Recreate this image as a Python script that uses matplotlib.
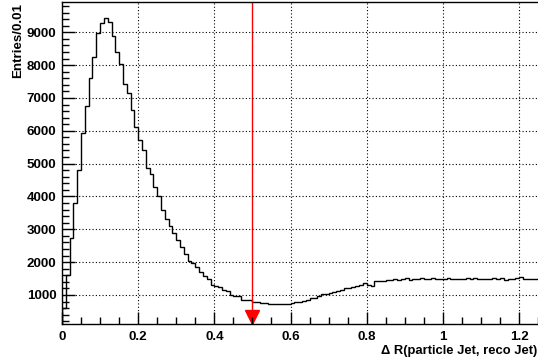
import matplotlib
matplotlib.use("Agg")
import matplotlib.pyplot as plt
import matplotlib.transforms as mtransforms
import numpy as np

# histogram: Delta R between particle jet and reco jet, bins of 0.01
bin_width = 0.01
counts = [600, 1600, 2750, 3810, 4810, 5930, 6770, 7600, 8250, 8980,
          9280, 9450, 9310, 8900, 8390, 8040, 7430, 7150, 6620, 6110,
          5725, 5420, 4860, 4690, 4290, 4010, 3600, 3320, 3100, 2890,
          2660, 2460, 2250, 2020, 1985, 1860, 1710, 1580, 1480, 1310,
          1275, 1230, 1140, 1130, 1000, 970, 960, 850, 850, 840,
          800, 795, 750, 745, 720, 715, 710, 712, 720, 740,
          770, 790, 800, 830, 860, 900, 920, 960, 1020, 1040,
          1060, 1100, 1110, 1150, 1200, 1210, 1240, 1270, 1300, 1360,
          1300, 1270, 1420, 1440, 1430, 1470, 1450, 1480, 1460, 1490,
          1510, 1470, 1500, 1490, 1510, 1500, 1480, 1510, 1500, 1490,
          1500, 1510, 1490, 1500, 1480, 1490, 1510, 1500, 1530, 1480,
          1500, 1490, 1500, 1520, 1490, 1530, 1470, 1480, 1490, 1520,
          1540, 1500, 1490, 1480, 1500, 1510]
cut_value = 0.5

x_ticks = [0, 0.2, 0.4, 0.6, 0.8, 1.0, 1.2]
x_ticklabels = ["0", "0.2", "0.4", "0.6", "0.8", "1", "1.2"]
y_ticks = [1000, 2000, 3000, 4000, 5000, 6000, 7000, 8000, 9000]

edges = np.arange(len(counts) + 1) * bin_width

plt.rcParams['font.family'] = ['Liberation Sans', 'DejaVu Sans']
plt.rcParams['font.weight'] = 'bold'

fig = plt.figure(figsize=(5.38, 3.62), dpi=100)
ax = fig.add_axes([62 / 538, 38 / 362, 1 - 62 / 538 + 0.002, 322 / 362])

ymin, ymax = 116, 1.05 * max(counts)
ax.stairs(counts, edges, baseline=0, color='black', lw=1.0)

ax.set_xlim(0, 1.2526)
ax.set_ylim(ymin, ymax)

ax.set_xticks(x_ticks)
ax.set_xticklabels(x_ticklabels)
ax.set_yticks(y_ticks)
ax.set_xticks(np.arange(0, 1.26, 0.05), minor=True)
ax.set_yticks(np.arange(200, 9900, 200), minor=True)
ax.tick_params(direction='in', which='major', length=9, width=1, labelsize=9.6, pad=4)
ax.tick_params(direction='in', which='minor', length=5, width=1)
ax.tick_params(axis='x', pad=5)

ax.grid(True, which='major', color='black', linestyle=(0, (1, 2)), lw=0.8)
ax.set_axisbelow(False)

for s in ['left', 'bottom', 'top']:
    ax.spines[s].set_linewidth(1.0)
ax.spines['right'].set_visible(False)

# cut line with arrow head
ax.plot([cut_value, cut_value], [ymin, ymax], color='red', lw=1.0)
tri = mtransforms.offset_copy(ax.transData, fig=fig, x=0, y=5, units='points')
ax.plot([cut_value], [ymin], marker='v', markersize=10, color='red',
        transform=tri, clip_on=False)

fig.text(0.033, 0.992, 'Entries/0.01', rotation=90, ha='center', va='top',
         fontsize=9.6, fontweight='bold')
fig.text(0.999, 0.015, '\u0394 R(particle Jet, reco Jet)', ha='right', va='bottom',
         fontsize=9.4, fontweight='bold')

fig.savefig('out.png', dpi=100)
